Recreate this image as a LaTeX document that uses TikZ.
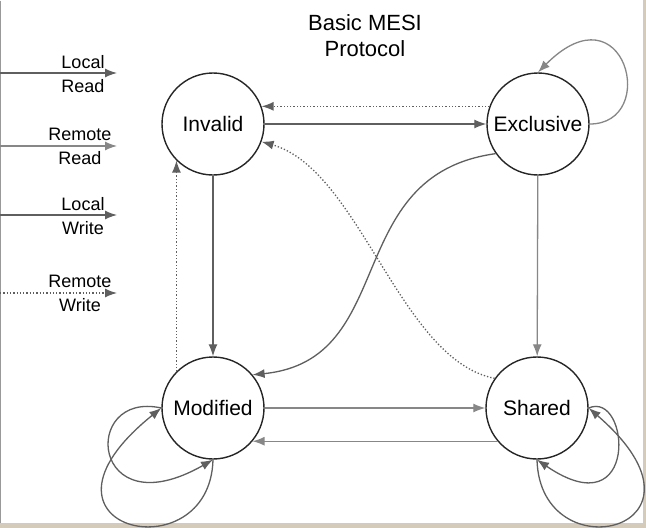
\documentclass[tikz,border=0pt]{standalone}
\usepackage{fontspec}
\setmainfont{Liberation Sans}
\usetikzlibrary{arrows.meta}
\definecolor{beige}{RGB}{212,203,186}
\definecolor{arr}{RGB}{95,95,95}
\definecolor{arrl}{RGB}{135,135,135}
\begin{document}
\begin{tikzpicture}[x=1pt,y=-1pt,
  st/.style={circle,draw=black!85,line width=1.4pt,minimum size=102pt,inner sep=0pt,font=\fontsize{21}{23}\selectfont},
  tr/.style={draw=arr,line width=1.3pt,-{Latex[length=12pt,width=9pt]}},
  trl/.style={tr,draw=arrl},
  rw/.style={tr,dotted},
  lab/.style={font=\fontsize{18}{19}\selectfont,align=center,inner sep=0pt}]
\useasboundingbox (0,0) rectangle (646,528);
\fill[beige] (0,0) rectangle (646,528);
\fill[white] (0,0) rectangle (643,523);
\draw[black!40] (0.5,0.5) -- (0.5,523);
% legend
\coordinate (l1a) at (0,73); \coordinate (l1b) at (117,73);
\coordinate (l2a) at (0,146); \coordinate (l2b) at (117,146);
\coordinate (l3a) at (0,215); \coordinate (l3b) at (117,215);
\coordinate (l4a) at (0,293); \coordinate (l4b) at (117,293);
\draw[tr] (l1a) -- (l1b);
\draw[trl] (l2a) -- (l2b);
\draw[tr] (l3a) -- (l3b);
\draw[rw] (l4a) -- (l4b);
\node[lab] (t1) at (83,62) {Local};
\node[lab] (t1b) at (83,86) {Read};
\node[lab] (t2) at (80,134) {Remote};
\node[lab] (t2b) at (80,158) {Read};
\node[lab] (t3) at (83,204) {Local};
\node[lab] (t3b) at (83,228) {Write};
\node[lab] (t4) at (80,281) {Remote};
\node[lab] (t4b) at (80,305) {Write};
\node[font=\fontsize{22}{26}\selectfont,align=center,inner sep=0pt] (title) at (365,36) {Basic MESI\\Protocol};
% states
\node[st] (I) at (213,124) {Invalid};
\node[st] (E) at (538,124) {Exclusive};
\node[st] (M) at (213,408) {Modified};
\node[st] (S) at (537,408) {Shared};
% edges
\draw[tr] (I) -- (E);
\draw[rw] (E.160) -- (I.20);
\draw[trl] (E.0) .. controls (660,124) and (625,-15) .. (E.90);
\draw[tr] (I) -- (M);
\draw[rw] (M.135) -- (M.135 |- I.225);
\draw[trl] (E) -- (S);
\draw[tr] (E.215) .. controls (340,175) and (400,360) .. (M.40);
\draw[rw] (S.145) .. controls (400,360) and (360,170) .. (I.-20);
\draw[trl] (M.0) -- (S.180);
\draw[trl] (S.220) -- (M.-40);
\draw[tr] (M.-90) .. controls (210,575) and (10,530) .. (M.180);
\draw[tr] (M.180) .. controls (80,390) and (90,530) .. (M.-90);
\draw[tr] (S.-90) .. controls (540,575) and (730,530) .. (S.0);
\draw[tr] (S.0) .. controls (630,390) and (640,530) .. (S.-90);
\end{tikzpicture}
\end{document}
